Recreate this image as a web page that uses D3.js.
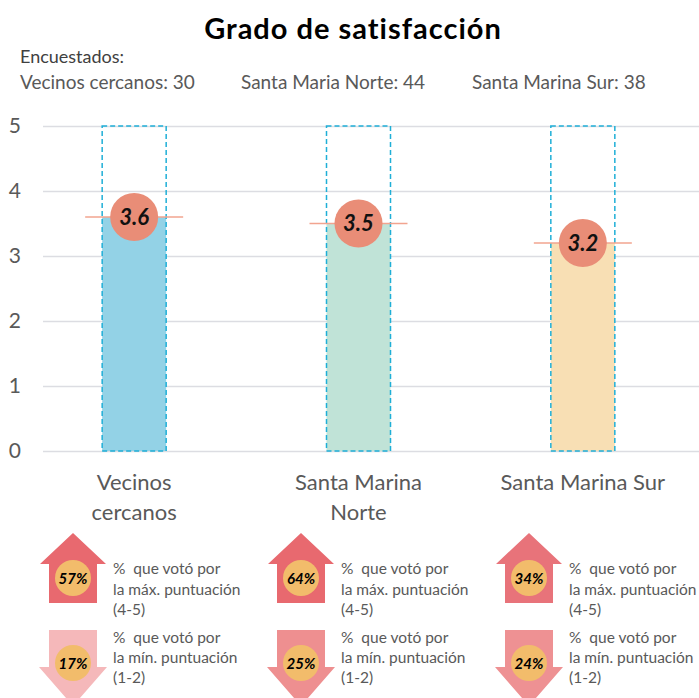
<!DOCTYPE html>
<html>
<head>
<meta charset="utf-8">
<script src="https://cdn.jsdelivr.net/npm/d3@7"></script>
<style>
  body { margin: 0; background: #fff; }
  svg { display: block; }
</style>
</head>
<body>
<div id="chart"></div>
<script>
const categories = ["Vecinos cercanos", "Santa Marina Norte", "Santa Marina Sur"];
const catLines = [["Vecinos", "cercanos"], ["Santa Marina", "Norte"], ["Santa Marina Sur"]];
const scores = [3.6, 3.5, 3.2];
const respondents = ["Vecinos cercanos: 30", "Santa Maria Norte: 44", "Santa Marina Sur: 38"];
const pctHigh = [57, 64, 34];
const pctLow = [17, 25, 24];
const yTicks = [0, 1, 2, 3, 4, 5];

const barColors = ["#93d2e6", "#c0e3d7", "#f8dfb4"];
const upColors = ["#e8696f", "#e8696f", "#e8737a"];
const downColors = ["#f5b8ba", "#ee8f90", "#ee9193"];

(function chart(){
let width = 699,
    height = 698,
    margin = ({top: 126, right: 0, bottom: 247, left: 43});

const grey = "#595959";
const font = "Lato, 'Open Sans', sans-serif";

const svg = d3.select("#chart")
    .append("svg")
    .attr("width", width)
    .attr("height", height)
    .style("font-family", font);

let x = d3.scaleBand()
    .domain(categories)
    .range([22, 695]);

// the small arrow panel below has its own spacing
let xa = d3.scaleBand()
    .domain(categories)
    .range([-41, 643]);

let y = d3.scaleLinear()
    .domain([0, 5])
    .range([height - margin.bottom, margin.top]);

const barW = 64;

// title + respondents
svg.append("text")
    .attr("x", 353).attr("y", 39)
    .attr("text-anchor", "middle")
    .style("font-size", "29px")
    .style("letter-spacing", "1px")
    .style("font-weight", "bold")
    .style("fill", "#000")
    .text("Grado de satisfacción");

svg.append("text")
    .attr("x", 20).attr("y", 63)
    .style("font-size", "18px")
    .style("fill", "#404040")
    .text("Encuestados:");

svg.selectAll(".resp")
    .data(respondents)
    .join("text")
    .attr("class", "resp")
    .attr("x", (d, i) => [20, 241, 472][i])
    .attr("y", 89)
    .style("font-size", "19px")
    .style("fill", grey)
    .text(d => d);

// y axis with grid
const yAxis = g => g
    .attr("transform", `translate(${margin.left},0)`)
    .call(d3.axisLeft(y).tickValues(yTicks).tickFormat(d3.format("d"))
        .tickSize(-(width - margin.left)).tickPadding(22))
    .call(g => g.select(".domain").remove())
    .call(g => g.selectAll(".tick line").attr("stroke", "#dcdde2").attr("stroke-width", 1.3))
    .call(g => g.selectAll(".tick text")
        .style("font-family", font)
        .style("font-size", "21px")
        .style("fill", grey));

svg.append("g").call(yAxis);

let bar = svg.selectAll(".bar")
    .data(categories)
    .join("g")
    .attr("class", "bar");

bar.append("rect")
    .attr("fill", (d, i) => barColors[i])
    .attr("x", d => x(d) + x.bandwidth() / 2 - barW / 2)
    .attr("width", barW)
    .attr("y", (d, i) => y(scores[i]))
    .attr("height", (d, i) => y(0) - y(scores[i]));

bar.append("rect")
    .attr("fill", "none")
    .attr("stroke", "#1fafd7")
    .attr("stroke-width", 1.5)
    .attr("stroke-dasharray", "5,3")
    .attr("x", d => x(d) + x.bandwidth() / 2 - barW / 2)
    .attr("width", barW)
    .attr("y", y(5))
    .attr("height", y(0) - y(5));

bar.append("line")
    .attr("x1", d => x(d) + x.bandwidth() / 2 - 49)
    .attr("x2", d => x(d) + x.bandwidth() / 2 + 49)
    .attr("y1", (d, i) => y(scores[i]))
    .attr("y2", (d, i) => y(scores[i]))
    .attr("stroke", "#f2a48f")
    .attr("stroke-width", 1.5);

bar.append("circle")
    .attr("cx", d => x(d) + x.bandwidth() / 2)
    .attr("cy", (d, i) => y(scores[i]))
    .attr("r", 24)
    .attr("fill", "#e98d77");

bar.append("text")
    .attr("x", d => x(d) + x.bandwidth() / 2)
    .attr("y", (d, i) => y(scores[i]) + 7.5)
    .attr("text-anchor", "middle")
    .style("font-size", "22px")
    .style("font-weight", "bold")
    .style("font-style", "italic")
    .style("fill", "#111")
    .text((d, i) => d3.format(".1f")(scores[i]));

// category labels
bar.append("text")
    .attr("text-anchor", "middle")
    .style("font-size", "22px")
    .style("fill", grey)
    .selectAll("tspan")
    .data((d, i) => catLines[i].map(t => ({t, c: d})))
    .join("tspan")
    .attr("x", d => x(d.c) + x.bandwidth() / 2)
    .attr("y", (d, j) => 490 + j * 30)
    .text(d => d.t);

// arrows
const upPath = cx => `M${cx},533 L${cx + 33},564 L${cx + 24},564 L${cx + 24},603 L${cx - 24},603 L${cx - 24},564 L${cx - 33},564 Z`;
const downPath = cx => `M${cx - 24},630 L${cx + 24},630 L${cx + 24},667 L${cx + 34},667 L${cx},706 L${cx - 34},667 L${cx - 24},667 Z`;

const arrowX = d => xa(d) + xa.bandwidth() / 2;

let arrows = svg.selectAll(".arrows")
    .data(categories)
    .join("g")
    .attr("class", "arrows");

arrows.append("path")
    .attr("d", d => upPath(arrowX(d)))
    .attr("fill", (d, i) => upColors[i]);

arrows.append("path")
    .attr("d", d => downPath(arrowX(d)))
    .attr("fill", (d, i) => downColors[i]);

arrows.append("circle")
    .attr("cx", d => arrowX(d))
    .attr("cy", 578)
    .attr("r", 18)
    .attr("fill", "#f2bc6b");

arrows.append("circle")
    .attr("cx", d => arrowX(d))
    .attr("cy", 663)
    .attr("r", 18)
    .attr("fill", "#f2bc6b");

arrows.append("text")
    .attr("x", d => arrowX(d))
    .attr("y", 583.5)
    .attr("text-anchor", "middle")
    .style("font-size", "15px")
    .style("font-weight", "bold")
    .style("font-style", "italic")
    .text((d, i) => pctHigh[i] + "%");

arrows.append("text")
    .attr("x", d => arrowX(d))
    .attr("y", 668.5)
    .attr("text-anchor", "middle")
    .style("font-size", "15px")
    .style("font-weight", "bold")
    .style("font-style", "italic")
    .text((d, i) => pctLow[i] + "%");

const upLines = ["%  que votó por", "la máx. puntuación", "(4-5)"];
const downLines = ["%  que votó por", "la mín. puntuación", "(1-2)"];

arrows.append("text")
    .style("font-size", "15.5px")
    .style("fill", grey)
    .style("white-space", "pre")
    .selectAll("tspan")
    .data(d => upLines.map(t => ({t, c: d})))
    .join("tspan")
    .attr("x", d => arrowX(d.c) + 40)
    .attr("y", (d, j) => 574 + j * 20.5)
    .text(d => d.t);

arrows.append("text")
    .style("font-size", "15.5px")
    .style("fill", grey)
    .style("white-space", "pre")
    .selectAll("tspan")
    .data(d => downLines.map(t => ({t, c: d})))
    .join("tspan")
    .attr("x", d => arrowX(d.c) + 40)
    .attr("y", (d, j) => 643 + j * 20)
    .text(d => d.t);
})();
</script>
</body>
</html>
